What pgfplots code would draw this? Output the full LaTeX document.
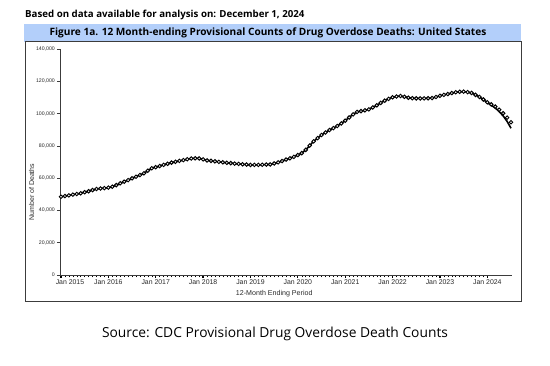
\documentclass[border=0pt]{standalone}
\usepackage{fontspec}
\setmainfont{Liberation Sans}
\newfontfamily\titlefont{Open Sans}
\usepackage{pgfplots}
\pgfplotsset{compat=1.18}
\usepackage{pgfplotstable}
\definecolor{band}{HTML}{B3CFFA}
\definecolor{framec}{HTML}{3C3C3C}
\definecolor{ticktext}{HTML}{2A2A2A}

\pgfplotstableread{
i v p
0 48500 48500
1 48900 48900
2 49300 49300
3 49800 49800
4 50200 50200
5 50600 50600
6 51300 51300
7 51900 51900
8 52600 52600
9 53300 53300
10 53600 53600
11 53800 53800
12 54100 54100
13 54700 54700
14 55700 55700
15 56800 56800
16 57800 57800
17 58800 58800
18 59900 59900
19 60900 60900
20 61900 61900
21 63000 63000
22 64600 64600
23 66100 66100
24 66800 66800
25 67500 67500
26 68200 68200
27 68900 68900
28 69600 69600
29 70100 70100
30 70700 70700
31 71200 71200
32 71700 71700
33 72200 72200
34 72300 72300
35 72200 72200
36 71600 71600
37 71000 71000
38 70700 70700
39 70400 70400
40 70100 70100
41 69800 69800
42 69500 69500
43 69300 69300
44 69000 69000
45 68800 68800
46 68600 68600
47 68400 68400
48 68200 68200
49 68200 68200
50 68200 68200
51 68300 68300
52 68400 68400
53 68500 68500
54 69100 69100
55 69800 69800
56 70600 70600
57 71500 71500
58 72300 72300
59 73200 73200
60 74300 74300
61 75500 75500
62 77500 77500
63 80200 80200
64 82800 82800
65 84800 84800
66 86700 86700
67 88300 88300
68 89800 89800
69 91000 91000
70 92300 92300
71 93900 93900
72 95600 95600
73 97600 97600
74 99500 99500
75 101000 101000
76 101500 101500
77 102000 102000
78 102600 102600
79 103800 103800
80 105100 105100
81 106600 106600
82 108000 108000
83 109100 109100
84 110100 110100
85 110600 110600
86 110900 110900
87 110400 110400
88 109800 109800
89 109500 109500
90 109400 109400
91 109400 109400
92 109400 109400
93 109500 109500
94 109600 109600
95 110300 110300
96 111000 111000
97 111600 111600
98 112100 112100
99 112700 112700
100 113200 113200
101 113500 113500
102 113600 113600
103 113300 113300
104 112800 112800
105 111600 111600
106 110300 110300
107 108700 108700
108 107000 106700
109 105700 105200
110 104300 103500
111 102400 101200
112 100200 98600
113 97500 95200
114 94600 90900
}\data

\begin{document}
\begin{tikzpicture}[x=1pt,y=1pt]
\useasboundingbox (0pt,0pt) rectangle (550pt,-366pt);
\fill[white] (0pt,0pt) rectangle (550pt,-366pt);
\node[anchor=west, inner sep=0, font=\titlefont\bfseries\fontsize{9.7}{11}\selectfont] at (25pt,-14.5pt) {Based on data available for analysis on: December 1, 2024};
\fill[band] (24pt,-24pt) rectangle (521pt,-42pt);
\node[font=\titlefont\bfseries\fontsize{10.1}{12}\selectfont] at (268pt,-33pt) {Figure 1a. 12 Month-ending Provisional Counts of Drug Overdose Deaths: United States};
\draw[framec, line width=1pt] (25pt,-42pt) rectangle (521pt,-302pt);
\node[font=\titlefont\fontsize{13.8}{16}\selectfont, text=black] at (275pt,-334pt) {Source: CDC Provisional Drug Overdose Death Counts};
\begin{axis}[
  at={(60pt,-275pt)}, anchor=south west,
  scale only axis, width=452pt, height=226pt,
  xmin=-0.25, xmax=114.25, ymin=0, ymax=140000,
  axis lines=left,
  axis line style={-, draw=framec, line width=0.7pt},
  tick align=outside,
  xtick={0,12,...,108},
  xticklabels={\hspace*{18pt}Jan 2015, Jan 2016, Jan 2017, Jan 2018, Jan 2019, Jan 2020, Jan 2021, Jan 2022, Jan 2023, Jan 2024},
  minor x tick num=11,
  major tick length=3pt,
  minor tick length=2.5pt,
  x tick style={black},
  major x tick style={line width=1.3pt},
  minor x tick style={line width=0.5pt},
  y tick style={line width=0.5pt, draw=framec},
  ytick={0,20000,...,140000},
  scaled y ticks=false,
  /pgf/number format/.cd, fixed, 1000 sep={,}, assume math mode=true,
  /pgfplots/.cd,
  x tick label style={font=\fontsize{6.9}{7.5}\selectfont, text=ticktext, inner sep=1.5pt},
  y tick label style={font=\fontsize{5.2}{6}\selectfont, text=ticktext, inner sep=2pt},
  xlabel={12-Month Ending Period},
  xlabel style={font=\fontsize{7.1}{8}\selectfont, text=ticktext, at={(axis description cs:0.474,-0.081)}, anchor=center},
  ylabel={Number of Deaths},
  ylabel style={font=\fontsize{7}{8}\selectfont, text=ticktext, at={(axis description cs:-0.0626,0.367)}, anchor=center},
  clip=false,
]
\addplot[black, line width=1.6pt, line join=round] table[x=i,y=p]{\data};
\addplot[only marks, mark=*, mark size=1.75pt, mark options={fill=white, draw=black, line width=0.95pt}] table[x=i,y=v]{\data};
\end{axis}
\end{tikzpicture}
\end{document}
